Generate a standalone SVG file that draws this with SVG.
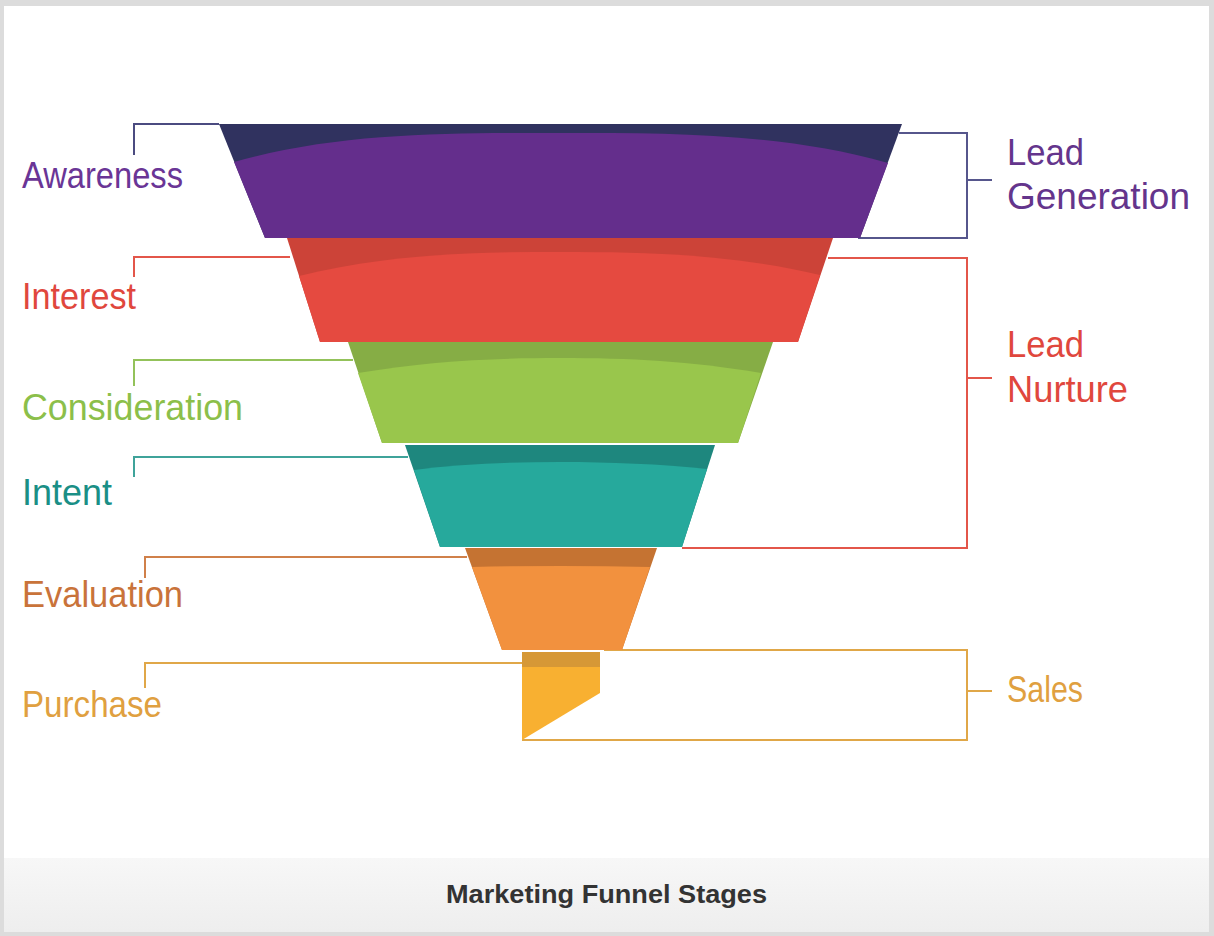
<svg xmlns="http://www.w3.org/2000/svg" width="1214" height="936" viewBox="0 0 1214 936">
<defs>
<linearGradient id="cap" x1="0" y1="0" x2="0" y2="1">
<stop offset="0" stop-color="#f7f7f7"/>
<stop offset="1" stop-color="#eeeeee"/>
</linearGradient>
</defs>
<style>
.lbl{font-family:"Liberation Sans","DejaVu Sans",sans-serif;font-size:36px;}
.br{fill:none;stroke-width:2;}
.cap{font-family:"Liberation Sans","DejaVu Sans",sans-serif;font-size:25px;font-weight:bold;fill:#333333;}
</style>
<rect x="0" y="0" width="1214" height="936" fill="#dcdcdc"/>
<rect x="4" y="6" width="1205" height="852" fill="#ffffff"/>
<rect x="4" y="858" width="1205" height="74" fill="url(#cap)"/>

<g id="connectors">
<path class="br" stroke="#4b4b80" d="M134 155 V124 H219"/>
<path class="br" stroke="#e3564a" d="M134 277 V257 H290"/>
<path class="br" stroke="#93c25a" d="M134 386 V360 H353"/>
<path class="br" stroke="#3fa39a" d="M134 477 V457 H408"/>
<path class="br" stroke="#d0804a" d="M145 578 V557 H467"/>
<path class="br" stroke="#e0a748" d="M145 688 V663 H522"/>
<path class="br" stroke="#56568c" d="M899 133 H967 V238 H858 M967 180 H992"/>
<path class="br" stroke="#e3564a" d="M828 258 H967 V548 H682 M967 378 H992"/>
<path class="br" stroke="#e0a748" d="M604 650 H967 V740 H522 M967 691 H992"/>
</g>

<g id="awareness">
<path fill="#30325f" d="M219 124 L902 124 L860 238 L265 238 Z"/>
<path fill="#642e8c" d="M234 162 C340 132 450 133 561 133 C672 133 782 133 888 163 L860 238 L265 238 Z"/>
<text class="lbl" x="22" y="188" fill="#6a3596" textLength="161" lengthAdjust="spacingAndGlyphs">Awareness</text>
</g>
<g id="interest">
<path fill="#cc4338" d="M287 238 L833 238 L798 342 L320 342 Z"/>
<path fill="#e54a40" d="M299 276 C390 254 470 252 560 252 C650 252 730 254 820 275 L798 342 L320 342 Z"/>
<text class="lbl" x="22" y="309" fill="#e0473d" textLength="114" lengthAdjust="spacingAndGlyphs">Interest</text>
</g>
<g id="consideration">
<path fill="#86ad45" d="M348 342 L773 342 L738 443 L382 443 Z"/>
<path fill="#99c64c" d="M358 373 C430 361 490 358 560 358 C630 358 690 361 761 373 L738 443 L382 443 Z"/>
<text class="lbl" x="22" y="420" fill="#8cbf4a" textLength="221" lengthAdjust="spacingAndGlyphs">Consideration</text>
</g>
<g id="intent">
<path fill="#1e877e" d="M405 445 L715 445 L682 547 L440 547 Z"/>
<path fill="#26a99c" d="M414 470 C460 464 510 462 560 462 C610 462 660 464 707 469 L682 547 L440 547 Z"/>
<text class="lbl" x="22" y="505" fill="#1a8f86" textLength="90" lengthAdjust="spacingAndGlyphs">Intent</text>
</g>
<g id="evaluation">
<path fill="#c57332" d="M465 548 L657 548 L622 650 L502 650 Z"/>
<path fill="#f2913e" d="M472 567 Q561 565 650 567 L622 650 L502 650 Z"/>
<text class="lbl" x="22" y="607" fill="#c9733a" textLength="161" lengthAdjust="spacingAndGlyphs">Evaluation</text>
</g>
<g id="purchase">
<rect x="522" y="652" width="78" height="15" fill="#d69836"/>
<path fill="#f8b031" d="M522 667 L600 667 L600 693 L522 740 Z"/>
<text class="lbl" x="22" y="717" fill="#e0a040" textLength="140" lengthAdjust="spacingAndGlyphs">Purchase</text>
</g>
<g id="lead-generation">
<text class="lbl" x="1007" y="165" fill="#64358c" textLength="77" lengthAdjust="spacingAndGlyphs">Lead</text>
<text class="lbl" x="1007" y="209" fill="#64358c" textLength="183" lengthAdjust="spacingAndGlyphs">Generation</text>
</g>
<g id="lead-nurture">
<text class="lbl" x="1007" y="357" fill="#e0473d" textLength="77" lengthAdjust="spacingAndGlyphs">Lead</text>
<text class="lbl" x="1007" y="402" fill="#e0473d" textLength="121" lengthAdjust="spacingAndGlyphs">Nurture</text>
</g>
<g id="sales">
<text class="lbl" x="1007" y="702" fill="#e0a040" textLength="76" lengthAdjust="spacingAndGlyphs">Sales</text>
</g>
<g id="caption">
<text class="cap" x="446" y="903" textLength="321" lengthAdjust="spacingAndGlyphs">Marketing Funnel Stages</text>
</g>
</svg>
